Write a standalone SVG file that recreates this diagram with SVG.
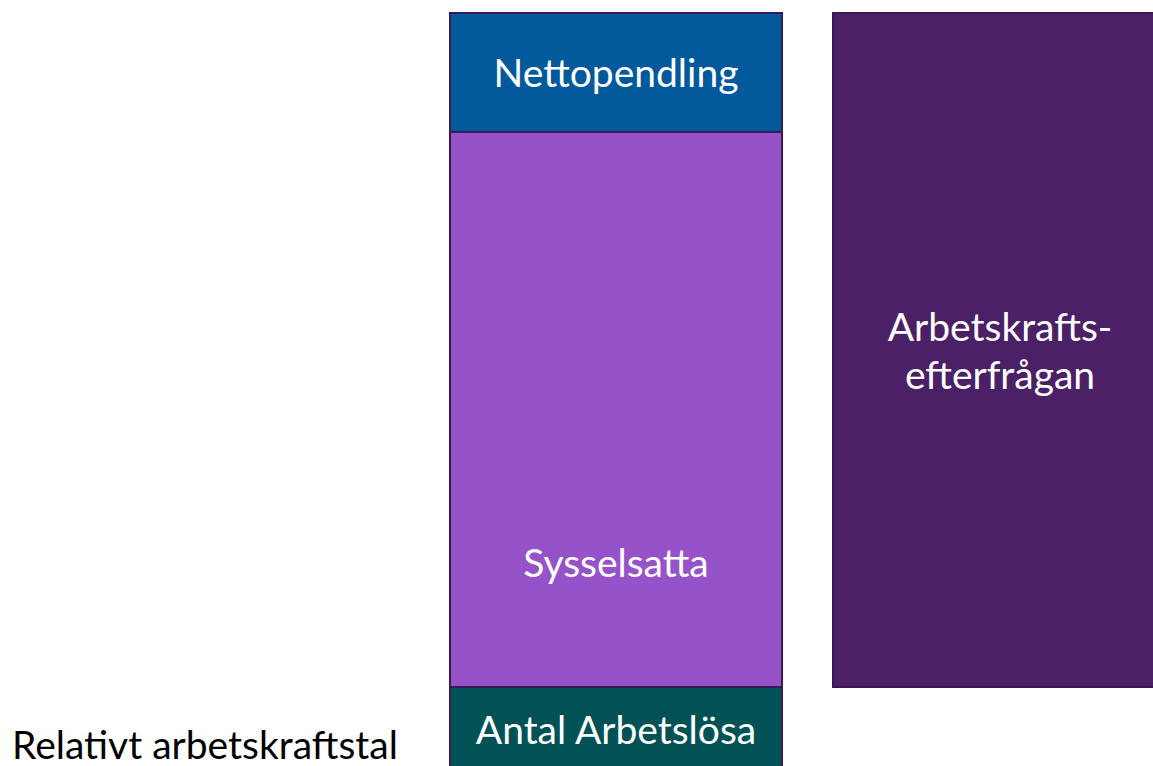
<svg xmlns="http://www.w3.org/2000/svg" width="1153" height="766" viewBox="0 0 1153 766">
<style>
.box{stroke:#3a1a56;stroke-width:2}
.lbl{font-family:Lato,"Open Sans",sans-serif;font-size:39px;fill:#ffffff;text-anchor:middle}
</style>
<rect width="1153" height="766" fill="#ffffff"/>
<g id="nettopendling"><rect class="box" x="450" y="13" width="332" height="119" fill="#02599c"/><text class="lbl" x="616" y="87">Nettopendling</text></g>
<g id="sysselsatta"><rect class="box" x="450" y="132" width="332" height="555" fill="#9653c9"/><text class="lbl" x="616" y="577">Sysselsatta</text></g>
<g id="arbetslosa"><rect class="box" x="450" y="687" width="332" height="90" fill="#005254"/><text class="lbl" x="616" y="744">Antal Arbetslösa</text></g>
<g id="efterfragan"><rect class="box" x="833" y="13" width="335" height="674" fill="#4b2067"/><text class="lbl" x="1000" y="341">Arbetskrafts-</text><text class="lbl" x="1000" y="389">efterfrågan</text></g>
<g id="connectors"></g>
<text x="12" y="759" style="font-family:Lato,'Open Sans',sans-serif;font-size:39px;fill:#000000">Relativt arbetskraftstal</text>
</svg>
